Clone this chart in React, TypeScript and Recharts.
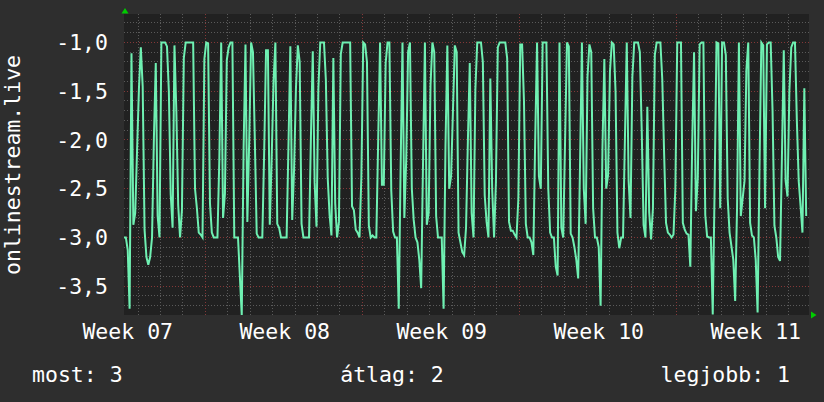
import React from "react";
import { LineChart, Line, XAxis, YAxis, CartesianGrid } from "recharts";

// 2-hour samples, hours counted from the midnight before the first sample
const START_HOUR = 9;
const STEP_HOURS = 2;

const week1 = [
  -3.0, -3.0, -3.13, -3.73, -1.11, -2.87, -2.75, -2.1, -1.47, -1.05, -1.45, -2.92,
  -3.2, -3.28, -3.2, -3.0, -1.98, -1.21, -2.78, -3.0, -1.0, -1.0, -1.0, -1.04,
  -1.5, -2.56, -2.9, -1.03, -1.7, -2.67, -3.0, -2.72, -1.16, -1.0, -1.0, -1.0,
  -1.0, -1.0, -2.5, -2.7, -2.95, -2.97, -3.0, -1.17, -1.0, -1.01, -2.65, -2.95,
  -3.0, -3.0, -3.0, -2.2, -1.0, -2.8, -2.55, -1.18, -1.05, -1.0, -1.0, -3.0,
  -3.0, -3.0, -3.4, -3.8, -2.08, -1.02, -2.84, -2.0, -1.0, -1.1, -2.0, -2.96,
  -3.0, -3.0, -3.0, -2.12, -1.08, -1.08, -2.87, -2.2, -1.4, -1.0, -2.86, -2.9,
];
const week2 = [
  -3.0, -3.0, -3.0, -3.0, -2.05, -1.04, -2.82, -2.3, -1.47, -1.03, -1.2, -2.86,
  -3.0, -3.0, -3.0, -3.0, -1.98, -1.09, -2.44, -2.89, -1.47, -1.0, -1.0, -1.0,
  -1.38, -2.39, -2.77, -2.98, -1.16, -2.65, -3.0, -2.84, -1.12, -1.0, -1.0, -1.0,
  -1.0, -1.0, -2.68, -2.72, -2.92, -2.95, -3.0, -2.38, -1.0, -1.02, -1.2, -2.88,
  -3.0, -2.98, -3.0, -3.0, -2.0, -1.0, -2.46, -2.46, -1.21, -1.0, -1.0, -2.52,
  -2.94, -3.0, -3.0, -3.73, -2.29, -1.0, -2.8, -2.2, -1.1, -1.0, -2.5, -2.82,
  -3.0, -3.05, -3.23, -3.52, -2.22, -1.0, -2.87, -2.75, -1.44, -1.0, -1.1, -2.78,
];
const week3 = [
  -3.0, -3.0, -3.0, -3.73, -2.07, -1.03, -2.5, -2.37, -1.7, -1.03, -1.1, -2.95,
  -3.05, -3.15, -3.18, -2.9, -2.0, -1.21, -2.75, -3.0, -1.48, -1.0, -1.0, -1.0,
  -1.2, -2.57, -2.84, -3.0, -1.37, -2.51, -3.0, -2.43, -1.05, -1.0, -1.0, -1.0,
  -1.0, -1.16, -2.84, -2.93, -2.93, -2.97, -3.0, -2.6, -1.02, -1.02, -1.6, -2.86,
  -3.0, -3.0, -3.05, -3.18, -2.0, -1.0, -2.37, -2.5, -1.0, -1.0, -1.0, -2.5,
  -2.95, -3.0, -3.0, -3.3, -3.39, -1.0, -2.9, -3.0, -2.0, -1.0, -1.04, -2.96,
  -3.0, -3.1, -3.23, -3.42, -2.24, -1.0, -2.5, -2.86, -1.35, -1.02, -1.1, -2.7,
];
const week4 = [
  -3.0, -3.0, -3.1, -3.7, -2.07, -1.17, -2.5, -2.36, -1.3, -1.0, -1.02, -1.5,
  -2.95, -3.11, -3.0, -3.0, -2.0, -1.0, -2.42, -2.8, -1.35, -1.0, -1.0, -1.0,
  -1.1, -1.9, -2.87, -3.0, -1.66, -2.74, -3.02, -2.7, -1.13, -1.0, -1.0, -1.0,
  -1.38, -2.15, -2.85, -2.95, -2.97, -3.0, -2.97, -2.5, -1.0, -1.0, -1.0, -2.85,
  -2.92, -2.96, -2.97, -3.3, -2.05, -1.1, -2.73, -2.39, -1.02, -1.0, -1.0, -2.77,
  -2.99, -3.0, -3.0, -3.79, -2.5, -1.0, -1.01, -2.7, -1.0, -1.0, -1.13, -2.6,
  -2.95, -3.09, -3.23, -3.65, -2.7, -1.0, -2.78, -2.6, -2.42, -1.28, -1.0, -2.85,
];
const week5 = [
  -2.98, -3.0, -3.23, -3.77, -2.3, -1.0, -1.03, -2.7, -1.02, -1.0, -1.0, -1.7,
  -2.88, -3.0, -3.2, -3.24, -2.19, -1.08, -2.42, -2.58, -1.5, -1.05, -1.0, -1.0,
  -1.8, -2.42, -2.68, -2.95, -1.47, -2.78,
];

const weekTicks = [13, 181, 349, 517, 685];
const weekLabels = ["Week 07", "Week 08", "Week 09", "Week 10", "Week 11"];
const yTicks = [-1, -1.5, -2, -2.5, -3, -3.5];
const seriesName = "onlinestream.live";
const legendItems = ["most: 3", "átlag: 2", "legjobb: 1"];

const values = [...week1, ...week2, ...week3, ...week4, ...week5];
const data = values.map((v, i) => ({ t: START_HOUR + i * STEP_HOURS, v }));

const X_DOMAIN = [9, 742];
const Y_DOMAIN = [-3.795, -0.708];
const FONT = "DejaVu Sans Mono";

// grid: minor every 0.1 / every day, major every 0.5 / every week
const minorY: number[] = [];
for (let i = 8; i <= 37; i++) if (i % 5 !== 0) minorY.push(-i / 10);
const weekLines = [96, 264, 432, 600];
const dayLines: number[] = [];
for (let h = 24; h < 742; h += 24) if (!weekLines.includes(h)) dayLines.push(h);

// snap grid lines to the pixel grid so the dotted lines stay crisp like rrdtool's
const snap = (p: number) => Math.round(p - 0.5) + 0.5;

const xGen = (vals: number[]) => ({ xAxis, offset }: any) =>
  vals.map((t) => {
    const p = xAxis && typeof xAxis.scale === "function"
      ? xAxis.scale(t)
      : offset.left + ((t - X_DOMAIN[0]) / (X_DOMAIN[1] - X_DOMAIN[0])) * offset.width;
    return snap(p);
  });

const yGen = (vals: number[]) => ({ yAxis, offset }: any) =>
  vals.map((v) => {
    const p = yAxis && typeof yAxis.scale === "function"
      ? yAxis.scale(v)
      : offset.top + ((Y_DOMAIN[1] - v) / (Y_DOMAIN[1] - Y_DOMAIN[0])) * offset.height;
    return snap(p);
  });

export default function App() {
  return (
    <div style={{ position: "absolute", left: 0, top: 0, width: 824, height: 402, background: "#2e2e2e" }}>
      <LineChart width={824} height={402} data={data} margin={{ top: 14, right: 15, bottom: 0, left: 0 }}>
        <CartesianGrid
          verticalCoordinatesGenerator={xGen(dayLines)}
          horizontalCoordinatesGenerator={yGen(minorY)}
          stroke="#5a5a5a"
          strokeDasharray="1 2"
          fill="#212121"
          fillOpacity={1}
        />
        <CartesianGrid
          verticalCoordinatesGenerator={xGen(weekLines)}
          horizontalCoordinatesGenerator={yGen(yTicks)}
          stroke="#843838"
          strokeDasharray="1 2"
        />
        <XAxis
          type="number"
          dataKey="t"
          domain={X_DOMAIN}
          ticks={weekTicks}
          tickFormatter={(t) => weekLabels[weekTicks.indexOf(t)]}
          axisLine={false}
          tickLine={false}
          tickSize={0}
          tickMargin={9}
          height={87}
          interval={0}
          tick={{ fill: "#ffffff", fontSize: 21.5, fontFamily: FONT }}
        />
        <YAxis
          type="number"
          domain={Y_DOMAIN}
          ticks={yTicks}
          allowDataOverflow
          tickFormatter={(v) => v.toFixed(1).replace(".", ",")}
          axisLine={false}
          tickLine={false}
          tickSize={0}
          tickMargin={16}
          width={124}
          interval={0}
          tick={{ fill: "#ffffff", fontSize: 21.5, fontFamily: FONT }}
          label={{
            content: () => (
              <text
                x={20}
                y={165}
                transform="rotate(-90 20 165)"
                textAnchor="middle"
                fill="#ffffff"
                fontSize={21.5}
                fontFamily={FONT}
              >
                {seriesName}
              </text>
            ),
          }}
        />
        <Line
          type="linear"
          dataKey="v"
          stroke="#6ff0b2"
          strokeWidth={2}
          dot={false}
          isAnimationActive={false}
        />
      </LineChart>
      <svg width={824} height={402} style={{ position: "absolute", left: 0, top: 0, pointerEvents: "none" }}>
        <polygon points="125,8 121.5,13.5 128.5,13.5" fill="#00cc00" />
        <polygon points="811,311.5 811,318.5 816.5,315" fill="#00cc00" />
        <g fill="#ffffff" fontSize={21.5} fontFamily={FONT}>
          <text x={32} y={382}>{legendItems[0]}</text>
          <text x={392} y={382} textAnchor="middle">{legendItems[1]}</text>
          <text x={790} y={382} textAnchor="end">{legendItems[2]}</text>
        </g>
      </svg>
    </div>
  );
}
